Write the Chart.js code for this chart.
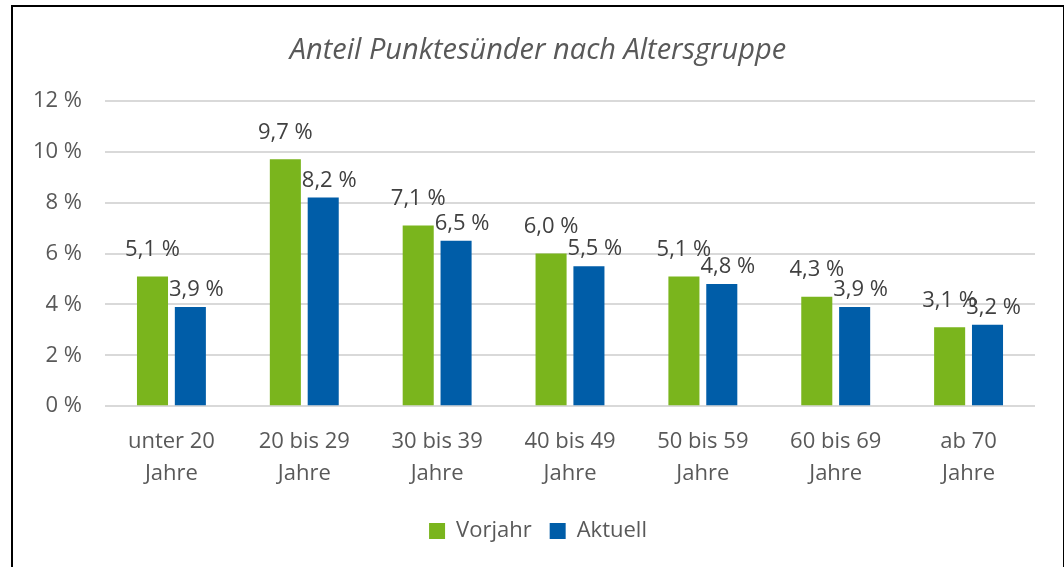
<!DOCTYPE html>
<html>
<head>
<meta charset="utf-8">
<script src="https://cdn.jsdelivr.net/npm/chart.js@4"></script>
<style>
  body { margin: 0; background: #fff; }
  #box { position: absolute; left: 11px; top: 5px; width: 1050px; height: 600px; border: 2px solid #000; }
  #wrap { width: 1050px; height: 560px; }
</style>
</head>
<body>
<div id="box"><div id="wrap"><canvas id="myChart"></canvas></div></div>
<script>
const CATEGORIES = [
    ['unter 20', 'Jahre'], ['20 bis 29', 'Jahre'], ['30 bis 39', 'Jahre'],
    ['40 bis 49', 'Jahre'], ['50 bis 59', 'Jahre'], ['60 bis 69', 'Jahre'], ['ab 70', 'Jahre']
];
const VORJAHR = [5.1, 9.7, 7.1, 6.0, 5.1, 4.3, 3.1];
const AKTUELL = [3.9, 8.2, 6.5, 5.5, 4.8, 3.9, 3.2];
const Y_TICKS = [0, 2, 4, 6, 8, 10, 12];

const GREEN = 'rgb(122, 181, 29)';
const BLUE = 'rgb(0, 93, 168)';
const TEXT_COLOR = '#595959';
const FONT = 'Open Sans';

function fmt(v) {
    return v.toFixed(1).replace('.', ',') + ' %';
}

// value labels above the bars
const valueLabels = {
    id: 'valueLabels',
    afterDatasetsDraw(chart) {
        const ctx = chart.ctx;
        ctx.save();
        ctx.font = '22px "' + FONT + '"';
        ctx.fillStyle = '#404040';
        ctx.textAlign = 'center';
        ctx.textBaseline = 'middle';
        chart.data.datasets.forEach((ds, i) => {
            const meta = chart.getDatasetMeta(i);
            const lift = i === 0 ? 27 : 17;
            const shift = i === 0 ? 0 : 6;
            meta.data.forEach((bar, j) => {
                ctx.fillText(fmt(ds.data[j]), bar.x + shift, bar.y - lift);
            });
        });
        ctx.restore();
    }
};

const ctx = document.getElementById('myChart');
new Chart(ctx, {
    type: 'bar',
    data: {
        labels: CATEGORIES,
        datasets: [{
            label: 'Vorjahr',
            data: VORJAHR,
            backgroundColor: GREEN,
            yAxisID: 'y',
            categoryPercentage: 0.57,
            barPercentage: 0.82
        }, {
            label: 'Aktuell',
            data: AKTUELL,
            backgroundColor: BLUE,
            yAxisID: 'y',
            categoryPercentage: 0.57,
            barPercentage: 0.82
        }]
    },
    options: {
        responsive: true,
        maintainAspectRatio: false,
        animation: false,
        layout: { padding: { left: 0, right: 0, top: 10, bottom: 15 } },
        plugins: {
            title: {
                display: true,
                text: 'Anteil Punktesünder nach Altersgruppe',
                color: TEXT_COLOR,
                font: { family: FONT, size: 29, style: 'italic', weight: 'normal' },
                padding: { top: 16, bottom: 33 }
            },
            legend: {
                position: 'bottom',
                labels: {
                    boxWidth: 16,
                    boxHeight: 16,
                    color: TEXT_COLOR,
                    font: { family: FONT, size: 22 },
                    padding: 18
                }
            },
            tooltip: { enabled: false }
        },
        scales: {
            x: {
                grid: { display: false },
                border: { display: false },
                ticks: {
                    color: TEXT_COLOR,
                    font: { family: FONT, size: 22, lineHeight: 1.45 },
                    padding: 12,
                    maxRotation: 0
                }
            },
            y: {
                min: 0,
                max: 12,
                afterBuildTicks: (scale) => { scale.ticks = Y_TICKS.map(v => ({ value: v })); },
                afterFit: (scale) => { scale.width = 92; },
                grid: { color: '#d9d9d9', lineWidth: 2, drawTicks: false },
                border: { display: false },
                ticks: {
                    color: TEXT_COLOR,
                    font: { family: FONT, size: 22 },
                    padding: 23,
                    callback: (v) => v + ' %'
                }
            },
            // empty right axis, just keeps the space on the right side
            rightGap: {
                position: 'right',
                min: 0,
                max: 12,
                grid: { display: false },
                border: { display: false },
                ticks: { display: false },
                afterFit: (scale) => { scale.width = 28; }
            }
        }
    },
    plugins: [valueLabels]
});
</script>
</body>
</html>
